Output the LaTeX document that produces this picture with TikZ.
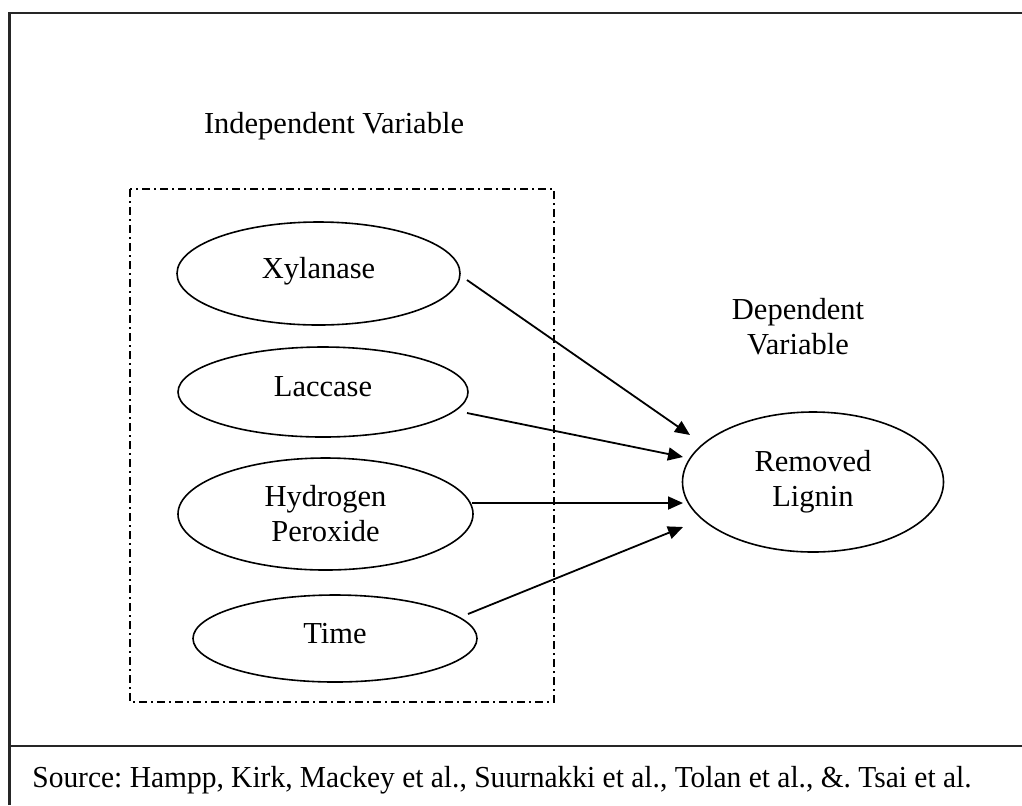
\documentclass[tikz,border=0pt]{standalone}
\usepackage{fontspec}
\setmainfont{Liberation Serif}
\usetikzlibrary{arrows.meta,shapes.geometric}
\begin{document}
\begin{tikzpicture}[x=0.5pt,y=-0.5pt,
  frameline/.style={line width=1.3pt,black!85},
  groupbox/.style={line width=0.8pt,dash pattern=on 4pt off 2pt on 1pt off 2pt},
  var/.style={ellipse,draw,line width=0.8pt,inner sep=0pt,align=center,
     font=\fontsize{15.25}{17.5}\selectfont},
  oneline/.style={text height=0.7em,text depth=0.25em},
  lbl/.style={font=\fontsize{15.25}{17.5}\selectfont,inner sep=0pt,align=center},
  conn/.style={line width=0.9pt,-{Triangle[length=7.5pt,width=6.5pt]}}]
\useasboundingbox (0,0) rectangle (1022,805);
% outer frame
\draw[frameline] (9.5,805) -- (9.5,13) -- (1022,13);
\draw[frameline] (9.5,746) -- (1022,746);
% group box
\draw[groupbox] (130,189) rectangle (554,702);
% titles
\node[lbl,anchor=base] (indep) at (334,133) {Independent Variable};
\node[lbl] (dep) at (798,327) {Dependent\\Variable};
% variables
\node[var,oneline,minimum width=141.5pt,minimum height=51.5pt] (xyl) at (318.5,273.5) {Xylanase};
\node[var,oneline,minimum width=145pt,minimum height=45pt] (lac) at (323,392) {Laccase};
\node[var,minimum width=147.5pt,minimum height=56pt] (hp) at (325.5,514) {Hydrogen\\Peroxide};
\node[var,oneline,minimum width=142pt,minimum height=43.5pt] (time) at (335,638.5) {Time};
\node[var,minimum width=130.5pt,minimum height=70pt] (rl) at (813,482) {Removed\\Lignin};
% connector ends
\coordinate (s1) at (467,280);
\coordinate (s2) at (467,413);
\coordinate (s3) at (472,503);
\coordinate (s4) at (468,614);
\coordinate (t1) at (690,435);
\coordinate (t2) at (683,457);
\coordinate (t3) at (683,503);
\coordinate (t4) at (683,527);
\draw[conn] (s1) -- (t1);
\draw[conn] (s2) -- (t2);
\draw[conn] (s3) -- (t3);
\draw[conn] (s4) -- (t4);
% source
\node[lbl,anchor=base west] (src) at (32,787) {\frenchspacing\scalebox{0.966}[1]{Source: Hampp, Kirk, Mackey et al., Suurnakki et al., Tolan et al., \&. Tsai et al.}};
\end{tikzpicture}
\end{document}
